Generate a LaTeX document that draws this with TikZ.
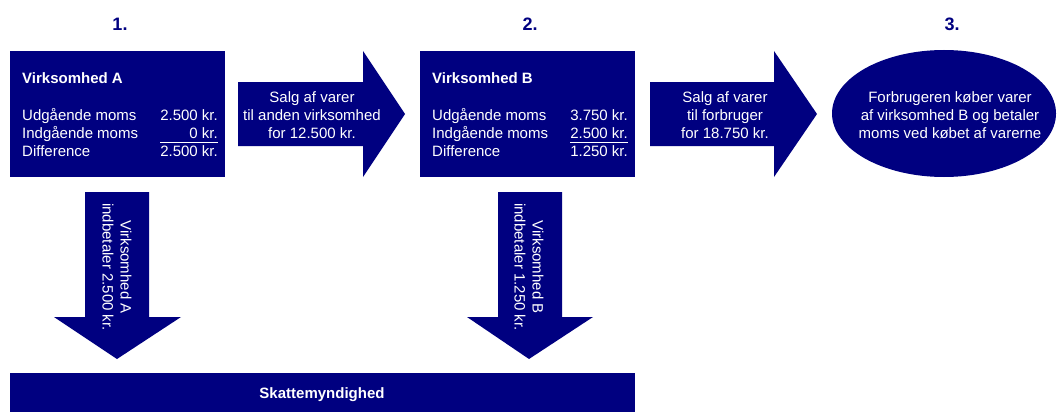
\documentclass[tikz,border=0pt]{standalone}
\usepackage{fontspec}
\setmainfont{Liberation Sans}
\usetikzlibrary{shapes.geometric}
\definecolor{momsblue}{RGB}{0,0,128}

\tikzset{
  txt/.style={text=white, font=\fontsize{15}{18}\selectfont, inner sep=0pt},
  boldtxt/.style={txt, font=\fontsize{15}{18}\selectfont\bfseries},
  stepnum/.style={text=momsblue, font=\fontsize{18}{20}\selectfont\bfseries, inner sep=0pt},
  block/.style={fill=momsblue, inner sep=0pt}
}

\begin{document}
\begin{tikzpicture}[x=1pt,y=-1pt]
		\useasboundingbox (0,0) rectangle (1057,412);
		
		% Step numbers
		\node[stepnum] (num1) at (120,24) {1.};
		\node[stepnum] (num2) at (530,24) {2.};
		\node[stepnum] (num3) at (952,24) {3.};
		
		% Firms
		\node[block, minimum width=215pt, minimum height=126pt] (firmA) at (117.5,114) {};
		\node[block, minimum width=215pt, minimum height=126pt] (firmB) at (527.5,114) {};
		
		% Firm A accounts
		\node[boldtxt, anchor=base west] (titleA) at (22,83) {Virksomhed A};
		\node[txt, anchor=base west] (outA) at (22,120) {Udgående moms};
		\node[txt, anchor=base west] (inA) at (22,138) {Indgående moms};
		\node[txt, anchor=base west] (diffA) at (22,156) {Difference};
		\node[txt, anchor=base east] (outvalA) at (218,120) {2.500 kr.};
		\node[txt, anchor=base east] (invalA) at (218,138) {0 kr.};
		\node[txt, anchor=base east] (diffvalA) at (218,156) {2.500 kr.};
		\draw[white, line width=0.9pt] (160,142) -- (218,142);
		
		% Firm B accounts
		\node[boldtxt, anchor=base west] (titleB) at (432,83) {Virksomhed B};
		\node[txt, anchor=base west] (outB) at (432,120) {Udgående moms};
		\node[txt, anchor=base west] (inB) at (432,138) {Indgående moms};
		\node[txt, anchor=base west] (diffB) at (432,156) {Difference};
		\node[txt, anchor=base east] (outvalB) at (628,120) {3.750 kr.};
		\node[txt, anchor=base east] (invalB) at (628,138) {2.500 kr.};
		\node[txt, anchor=base east] (diffvalB) at (628,156) {1.250 kr.};
		\draw[white, line width=0.9pt] (570,142) -- (628,142);
		
		% Consumer
		\node[block, ellipse, minimum width=224pt, minimum height=127pt] (buyer) at (944,113.5) {};
		\node[txt, align=center] (buyertext) at (950,115) {Forbrugeren køber varer\\af virksomhed B og betaler\\moms ved købet af varerne};
		
		% Tax authority
		\node[block, minimum width=625pt, minimum height=40pt] (tax) at (322.5,393) {};
		\node[boldtxt] (taxtext) at (322,395) {Skattemyndighed};
		
		% Sales arrows
		\fill[momsblue] (238,82) -- (363,82) -- (363,51) -- (405,114) -- (363,177) -- (363,146) -- (238,146) -- cycle;
		\fill[momsblue] (650,82) -- (774,82) -- (774,51) -- (817,114) -- (774,177) -- (774,146) -- (650,146) -- cycle;
		\node[txt, align=center] (saleA) at (312,115) {Salg af varer\\til anden virksomhed\\for 12.500 kr.};
		\node[txt, align=center] (saleB) at (725,115) {Salg af varer\\til forbruger\\for 18.750 kr.};
		
		% Payment arrows
		\fill[momsblue] (85,192) -- (149,192) -- (149,317) -- (181,317) -- (117,359) -- (54,317) -- (85,317) -- cycle;
		\fill[momsblue] (498,192) -- (562,192) -- (562,317) -- (593,317) -- (529,359) -- (467,317) -- (498,317) -- cycle;
		\node[txt, align=center, rotate=-90] (payA) at (117,267) {Virksomhed A\\indbetaler 2.500 kr.};
		\node[txt, align=center, rotate=-90] (payB) at (529,267) {Virksomhed B\\indbetaler 1.250 kr.};
		
\end{tikzpicture}
\end{document}
